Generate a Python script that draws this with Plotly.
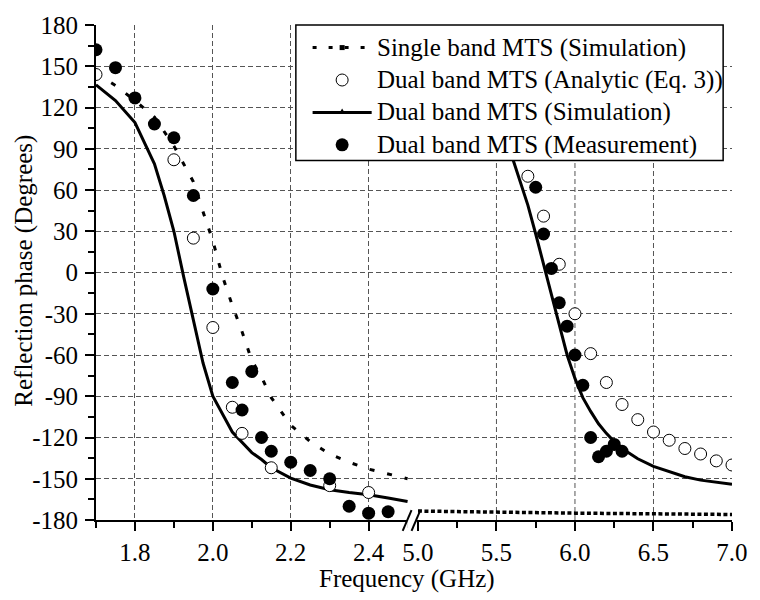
import plotly.graph_objects as go

# ---------------- data ----------------
# Single band MTS (Simulation)
sb_f_low = [1.70, 1.75, 1.80, 1.85, 1.90, 1.95, 1.975, 2.00, 2.025, 2.05, 2.075, 2.10,
            2.125, 2.15, 2.20, 2.25, 2.30, 2.35, 2.40, 2.45, 2.50]
sb_p_low = [145, 136, 125, 113, 92, 66, 44, 23, -3, -24, -43, -64,
            -76, -91, -111, -123, -132, -138, -143, -146.5, -150]
sb_f_high = [5.0, 5.5, 6.0, 6.5, 7.0]
sb_p_high = [-173.5, -174.5, -175, -175.5, -176]

# Dual band MTS (Analytic (Eq. 3))
an_f_low = [1.70, 1.90, 1.95, 2.00, 2.05, 2.075, 2.15, 2.30, 2.40]
an_p_low = [144, 82, 25, -40, -98, -117, -142, -155, -160]
an_f_high = [5.7, 5.8, 5.9, 6.0, 6.1, 6.2, 6.3, 6.4, 6.5, 6.6, 6.7, 6.8, 6.9, 7.0]
an_p_high = [70, 41, 6, -30, -59, -80, -96, -107, -116, -122, -128, -132, -137, -140]

# Dual band MTS (Simulation)
ds_f_low = [1.70, 1.75, 1.80, 1.85, 1.875, 1.90, 1.925, 1.95, 1.975, 2.00, 2.05, 2.10,
            2.125, 2.15, 2.20, 2.25, 2.30, 2.35, 2.40, 2.45, 2.50]
ds_p_low = [136.5, 125, 109, 79, 56, 30, -3, -34, -66, -90, -116, -131,
            -136, -142, -149.5, -154.5, -158, -160, -161.6, -164, -166.5]
ds_f_high = [5.50, 5.55, 5.60, 5.65, 5.70, 5.75, 5.80, 5.85, 5.90, 5.95, 6.00, 6.05,
             6.10, 6.15, 6.20, 6.25, 6.30, 6.40, 6.50, 6.60, 6.70, 6.80, 6.90, 7.00]
ds_p_high = [130, 105, 84, 67, 49, 28, 6, -17, -38, -60, -77, -91,
             -101, -110, -117, -123, -128, -135.5, -141, -145, -148.5, -151, -152.5, -154]

# Dual band MTS (Measurement)
me_f_low = [1.70, 1.75, 1.80, 1.85, 1.90, 1.95, 2.00, 2.05, 2.075, 2.10, 2.125, 2.15,
            2.20, 2.25, 2.30, 2.35, 2.40, 2.45]
me_p_low = [162, 149, 127, 108, 98, 56, -12, -80, -100, -72, -120, -130,
            -138, -144, -150, -170, -175, -174]
me_f_high = [5.75, 5.80, 5.85, 5.90, 5.95, 6.00, 6.05, 6.10, 6.15, 6.20, 6.25, 6.30]
me_p_high = [62, 28, 3, -22, -39, -60, -82, -120, -134, -130, -125, -130]

# axis ticks
y_tick_vals = [-180, -150, -120, -90, -60, -30, 0, 30, 60, 90, 120, 150, 180]
y_tick_text = ["-180", "-150", "-120", "-90", "-60", "-30", "0", "30", "60", "90", "120", "150", "180"]
y_minor_vals = [-165, -135, -105, -75, -45, -15, 15, 45, 75, 105, 135, 165]
x2_grid_vals = [5.5, 6.0, 6.5]

names = ["Single band MTS (Simulation)", "Dual band MTS (Analytic (Eq. 3))",
         "Dual band MTS (Simulation)", "Dual band MTS (Measurement)"]

# ---------------- figure ----------------
FONT = "Liberation Serif"
W, H = 760, 600
ML, MR, MT, MB = 96, 18, 16, 80
PW = W - ML - MR
PH = H - MT - MB
split = (423 - ML) / PW
x_left_range = [1.7, 1.7 + (423 - ML) / 395.6]


def px(x):
    return (x - ML) / PW


def py(y):
    return (H - MB - y) / PH


fig = go.Figure()

fig.add_trace(go.Scatter(x=sb_f_low, y=sb_p_low, mode="lines", name=names[0],
                         line=dict(color="black", width=3, dash="5px,13px"),
                         xaxis="x", yaxis="y", showlegend=False))
fig.add_trace(go.Scatter(x=sb_f_high, y=sb_p_high, mode="lines", name=names[0],
                         line=dict(color="black", width=3.5, dash="4px,2.5px"),
                         xaxis="x2", yaxis="y", showlegend=False))

fig.add_trace(go.Scatter(x=ds_f_low, y=ds_p_low, mode="lines", name=names[2],
                         line=dict(color="black", width=3), xaxis="x", yaxis="y", showlegend=False))
fig.add_trace(go.Scatter(x=ds_f_high, y=ds_p_high, mode="lines", name=names[2],
                         line=dict(color="black", width=3), xaxis="x2", yaxis="y", showlegend=False))

open_marker = dict(symbol="circle", size=12, color="white", line=dict(color="black", width=1))
fig.add_trace(go.Scatter(x=an_f_low, y=an_p_low, mode="markers", name=names[1],
                         marker=open_marker, xaxis="x", yaxis="y", showlegend=False))
fig.add_trace(go.Scatter(x=an_f_high, y=an_p_high, mode="markers", name=names[1],
                         marker=open_marker, xaxis="x2", yaxis="y", showlegend=False))

fill_marker = dict(symbol="circle", size=13, color="black", line=dict(color="black", width=0))
fig.add_trace(go.Scatter(x=me_f_low, y=me_p_low, mode="markers", name=names[3],
                         marker=fill_marker, xaxis="x", yaxis="y", showlegend=False))
fig.add_trace(go.Scatter(x=me_f_high, y=me_p_high, mode="markers", name=names[3],
                         marker=fill_marker, xaxis="x2", yaxis="y", showlegend=False))

tickfont = dict(family=FONT, size=25, color="black")
grid_kw = dict(showgrid=True, gridcolor="#555", gridwidth=1, griddash="5px,3px")
tick_kw = dict(showline=True, linecolor="black", linewidth=2, ticks="outside", ticklen=9,
               tickwidth=2, tickcolor="black", tickfont=tickfont, zeroline=False)

fig.update_layout(
    width=W, height=H,
    margin=dict(l=ML, r=MR, t=MT, b=MB, pad=0),
    paper_bgcolor="white", plot_bgcolor="white",
    font=dict(family=FONT, size=25, color="black"),
    showlegend=False,
    xaxis=dict(domain=[0, split], range=x_left_range, dtick=0.2, tick0=0, tickformat=".1f",
               minor=dict(dtick=0.1, ticks="outside", ticklen=6, tickwidth=2, tickcolor="black"),
               anchor="y", **tick_kw, **grid_kw),
    xaxis2=dict(domain=[split, 1], range=[5.0, 7.0], dtick=0.5, tick0=0, tickformat=".1f",
                minor=dict(dtick=0.25, ticks="outside", ticklen=6, tickwidth=2, tickcolor="black"),
                anchor="y", showgrid=False, **tick_kw),
    yaxis=dict(range=[-180, 180], tickmode="array", tickvals=y_tick_vals, ticktext=y_tick_text,
               minor=dict(tickmode="array", tickvals=y_minor_vals, ticks="outside", ticklen=6,
                          tickwidth=2, tickcolor="black"),
               anchor="x", ticklabelstandoff=2, **tick_kw, **grid_kw),
)

# vertical grid lines on the high-frequency segment (not at its ends)
for gv in x2_grid_vals:
    fig.add_shape(type="line", xref="x2", yref="paper", x0=gv, x1=gv, y0=0, y1=1,
                  line=dict(color="#555", width=1, dash="5px,3px"), layer="below")

# axis break marks
fig.add_shape(type="rect", xref="paper", yref="paper", x0=px(412), x1=px(421.5),
              y0=py(532), y1=py(516), fillcolor="white", line=dict(width=0), layer="above")
for sx in (407.5, 416.5):
    fig.add_shape(type="line", xref="paper", yref="paper",
                  x0=px(sx), x1=px(sx + 9), y0=py(531), y1=py(510),
                  line=dict(color="black", width=2), layer="above")

# axis titles
fig.add_annotation(text="Frequency (GHz)", xref="paper", yref="paper",
                   x=px(412), y=py(580), xanchor="center", yanchor="middle",
                   showarrow=False, font=dict(family=FONT, size=25, color="black"))
fig.add_annotation(text="Reflection phase (Degrees)", xref="paper", yref="paper",
                   x=px(22), y=py(266), xanchor="center", yanchor="middle", textangle=-90,
                   showarrow=False, font=dict(family=FONT, size=25, color="black"))

# ---------------- legend box (drawn like the original) ----------------
LX0, LX1, LY0, LY1 = 299, 733, 16, 154
rows = [39, 72, 105, 138]
sym_x0, sym_x1, sym_c, text_x = 316, 376, 346, 379
fig.add_shape(type="rect", xref="paper", yref="paper", x0=px(LX0), x1=px(LX1),
              y0=py(LY1), y1=py(LY0), fillcolor="white",
              line=dict(color="black", width=1.5), layer="above")
# row 1: dotted line + small square
fig.add_shape(type="line", xref="paper", yref="paper", x0=px(sym_x0), x1=px(sym_x1),
              y0=py(rows[0]), y1=py(rows[0]),
              line=dict(color="black", width=3, dash="4px,12px"), layer="above")
fig.add_shape(type="rect", xref="paper", yref="paper", xsizemode="pixel", ysizemode="pixel",
              xanchor=px(sym_c), yanchor=py(rows[0]), x0=-2.5, x1=2.5, y0=-2.5, y1=2.5,
              fillcolor="black", line=dict(width=0), layer="above")
# row 2: open circle
fig.add_shape(type="circle", xref="paper", yref="paper", xsizemode="pixel", ysizemode="pixel",
              xanchor=px(sym_c), yanchor=py(rows[1]), x0=-6, x1=6, y0=-6, y1=6,
              fillcolor="white", line=dict(color="black", width=1), layer="above")
# row 3: solid line + tiny triangle
fig.add_shape(type="line", xref="paper", yref="paper", x0=px(sym_x0), x1=px(sym_x1),
              y0=py(rows[2]), y1=py(rows[2]),
              line=dict(color="black", width=3), layer="above")
fig.add_shape(type="path", xref="paper", yref="paper", xsizemode="pixel", ysizemode="pixel",
              xanchor=px(sym_c), yanchor=py(rows[2]), path="M -3,-1 L 3,-1 L 0,4 Z",
              fillcolor="black", line=dict(width=0), layer="above")
# row 4: filled circle
fig.add_shape(type="circle", xref="paper", yref="paper", xsizemode="pixel", ysizemode="pixel",
              xanchor=px(sym_c), yanchor=py(rows[3]), x0=-6.5, x1=6.5, y0=-6.5, y1=6.5,
              fillcolor="black", line=dict(width=0), layer="above")
for r, nm in zip(rows, names):
    fig.add_annotation(text=nm, xref="paper", yref="paper", x=px(text_x), y=py(r),
                       xanchor="left", yanchor="middle", showarrow=False,
                       font=dict(family=FONT, size=25, color="black"))

fig.write_html("out.html")
